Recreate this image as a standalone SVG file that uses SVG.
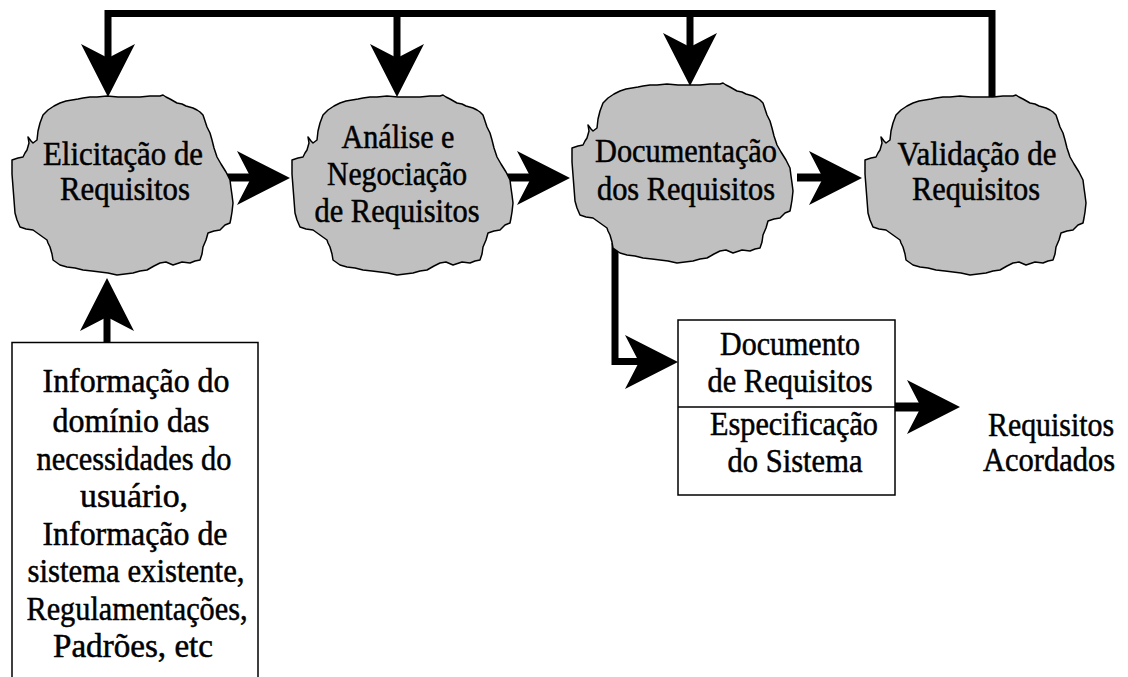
<svg xmlns="http://www.w3.org/2000/svg" xmlns:xlink="http://www.w3.org/1999/xlink" width="1128" height="677" viewBox="0 0 1128 677">
  <style>
    .cloud { fill: #c0c0c0; stroke: #000; stroke-width: 1.5; stroke-linejoin: round; }
    .box { fill: #fff; stroke: #000; stroke-width: 1.5; }
    .shaft { fill: none; stroke: #000; stroke-width: 7; stroke-linejoin: miter; }
    .head { fill: #000; }
    .lbl { font-family: "Liberation Serif", "Times New Roman", serif; font-size: 33px; fill: #000; stroke: #000; stroke-width: 0.5; text-anchor: middle; }
    .lbl-l { font-family: "Liberation Serif", "Times New Roman", serif; font-size: 33px; fill: #000; stroke: #000; stroke-width: 0.5; }
  </style>
  <defs>
    <!-- irregular blob outline, drawn at the first position -->
    <path id="blob" d="M43,115 L48,110 L54,106 L60,103 L66,101 L72,100 L78,99 L83,98 L90,97 L97,97 L107,96 L118,97 L130,97 L140,97 L150,96 L160,96 L163,95 L166,97 L170,99 L177,103 L182,104 L186,106 L193,108 L197,110 L200,112 L203,115 L205,121 L207,127 L210,133 L212,140 L214,148 L217,157 L221,164 L226,172 L230,180 L231,188 L232,195 L233,203 L232,212 L231,218 L230,223 L225,225 L220,230 L214,231 L208,233 L206,240 L203,247 L202,254 L200,260 L195,261 L190,263 L182,262 L173,265 L166,262 L160,263 L154,266 L147,270 L140,271 L133,273 L125,274 L117,275 L108,273 L100,272 L92,271 L83,270 L75,268 L67,267 L60,265 L53,260 L52,254 L50,247 L48,243 L47,240 L40,235 L33,230 L26,229 L20,227 L17,220 L15,213 L14,200 L13,187 L12,174 L12,160 L18,158 L23,157 L25,153 L27,150 L29,143 L28,137 L31,141 L33,143 L37,140 L38,131 L40,123 Z"/>
    <!-- barbed arrowhead, tip at origin, pointing right -->
    <path id="ah" d="M0,0 L-53,-27 L-39,0 L-53,27 Z"/>
  </defs>

  <g id="connectors">
    <!-- feedback loop from validation back to the first three stages -->
    <path class="shaft" d="M992,97 V13.5 H108 V60"/>
    <path class="shaft" d="M397,13.5 V60"/>
    <path class="shaft" d="M690,13.5 V48"/>
    <use href="#ah" class="head" transform="translate(108,97) rotate(90)"/>
    <use href="#ah" class="head" transform="translate(397,97) rotate(90)"/>
    <use href="#ah" class="head" transform="translate(690,86) rotate(90)"/>
    <!-- stage to stage -->
    <path class="shaft" style="stroke-width:8" d="M225,177.5 H252"/>
    <use href="#ah" class="head" transform="translate(290,178)"/>
    <path class="shaft" style="stroke-width:8" d="M507,177.5 H532"/>
    <use href="#ah" class="head" transform="translate(570,178)"/>
    <path class="shaft" style="stroke-width:8" d="M797,177.5 H824"/>
    <use href="#ah" class="head" transform="translate(862,178)"/>
    <!-- inputs up into elicitation -->
    <path class="shaft" d="M107,343 V315"/>
    <use href="#ah" class="head" transform="translate(107,278) rotate(-90)"/>
    <!-- documentation down to the document -->
    <path class="shaft" d="M615,243 V361.5 H642"/>
    <use href="#ah" class="head" transform="translate(678,362)"/>
    <!-- document out to agreed requirements -->
    <path class="shaft" style="stroke-width:9" d="M895,407 H922"/>
    <use href="#ah" class="head" transform="translate(960,407)"/>
  </g>

  <g id="elicitacao">
    <use href="#blob" class="cloud"/>
    <text class="lbl" x="123" y="165" textLength="160" lengthAdjust="spacingAndGlyphs">Elicitação de</text>
    <text class="lbl" x="125" y="200" textLength="130" lengthAdjust="spacingAndGlyphs">Requisitos</text>
  </g>

  <g id="analise">
    <use href="#blob" class="cloud" transform="translate(280,0)"/>
    <text class="lbl" x="398" y="148" textLength="113" lengthAdjust="spacingAndGlyphs">Análise e</text>
    <text class="lbl" x="397" y="185" textLength="140" lengthAdjust="spacingAndGlyphs">Negociação</text>
    <text class="lbl" x="397" y="222" textLength="165" lengthAdjust="spacingAndGlyphs">de Requisitos</text>
  </g>

  <g id="documentacao">
    <use href="#blob" class="cloud" transform="translate(560,-12)"/>
    <text class="lbl" x="686" y="162" textLength="182" lengthAdjust="spacingAndGlyphs">Documentação</text>
    <text class="lbl" x="686" y="200" textLength="178" lengthAdjust="spacingAndGlyphs">dos Requisitos</text>
  </g>

  <g id="validacao">
    <use href="#blob" class="cloud" transform="translate(853,0)"/>
    <text class="lbl" x="977" y="165" textLength="159" lengthAdjust="spacingAndGlyphs">Validação de</text>
    <text class="lbl" x="976" y="200" textLength="128" lengthAdjust="spacingAndGlyphs">Requisitos</text>
  </g>

  <g id="informacao">
    <path class="box" d="M12,677 V342.5 H258 V677"/>
    <text class="lbl" x="136" y="392" textLength="187" lengthAdjust="spacingAndGlyphs">Informação do</text>
    <text class="lbl" x="131" y="432" textLength="157" lengthAdjust="spacingAndGlyphs">domínio das</text>
    <text class="lbl" x="134" y="470" textLength="195" lengthAdjust="spacingAndGlyphs">necessidades do</text>
    <text class="lbl" x="134" y="507" textLength="108" lengthAdjust="spacingAndGlyphs">usuário,</text>
    <text class="lbl" x="135" y="545" textLength="185" lengthAdjust="spacingAndGlyphs">Informação de</text>
    <text class="lbl" x="136" y="582" textLength="217" lengthAdjust="spacingAndGlyphs">sistema existente,</text>
    <text class="lbl" x="137" y="620" textLength="221" lengthAdjust="spacingAndGlyphs">Regulamentações,</text>
    <text class="lbl" x="133" y="657" textLength="160" lengthAdjust="spacingAndGlyphs">Padrões, etc</text>
  </g>

  <g id="documento">
    <rect class="box" x="678" y="320" width="217" height="175"/>
    <line x1="678" y1="407" x2="895" y2="407" stroke="#000" stroke-width="1.5"/>
    <text class="lbl" x="790" y="355" textLength="140" lengthAdjust="spacingAndGlyphs">Documento</text>
    <text class="lbl" x="790" y="392" textLength="165" lengthAdjust="spacingAndGlyphs">de Requisitos</text>
    <text class="lbl" x="794" y="435" textLength="168" lengthAdjust="spacingAndGlyphs">Especificação</text>
    <text class="lbl" x="795" y="472" textLength="135" lengthAdjust="spacingAndGlyphs">do Sistema</text>
  </g>

  <g id="acordados">
    <text class="lbl-l" x="988" y="436" textLength="126" lengthAdjust="spacingAndGlyphs">Requisitos</text>
    <text class="lbl-l" x="983" y="471" textLength="132" lengthAdjust="spacingAndGlyphs">Acordados</text>
  </g>
</svg>
